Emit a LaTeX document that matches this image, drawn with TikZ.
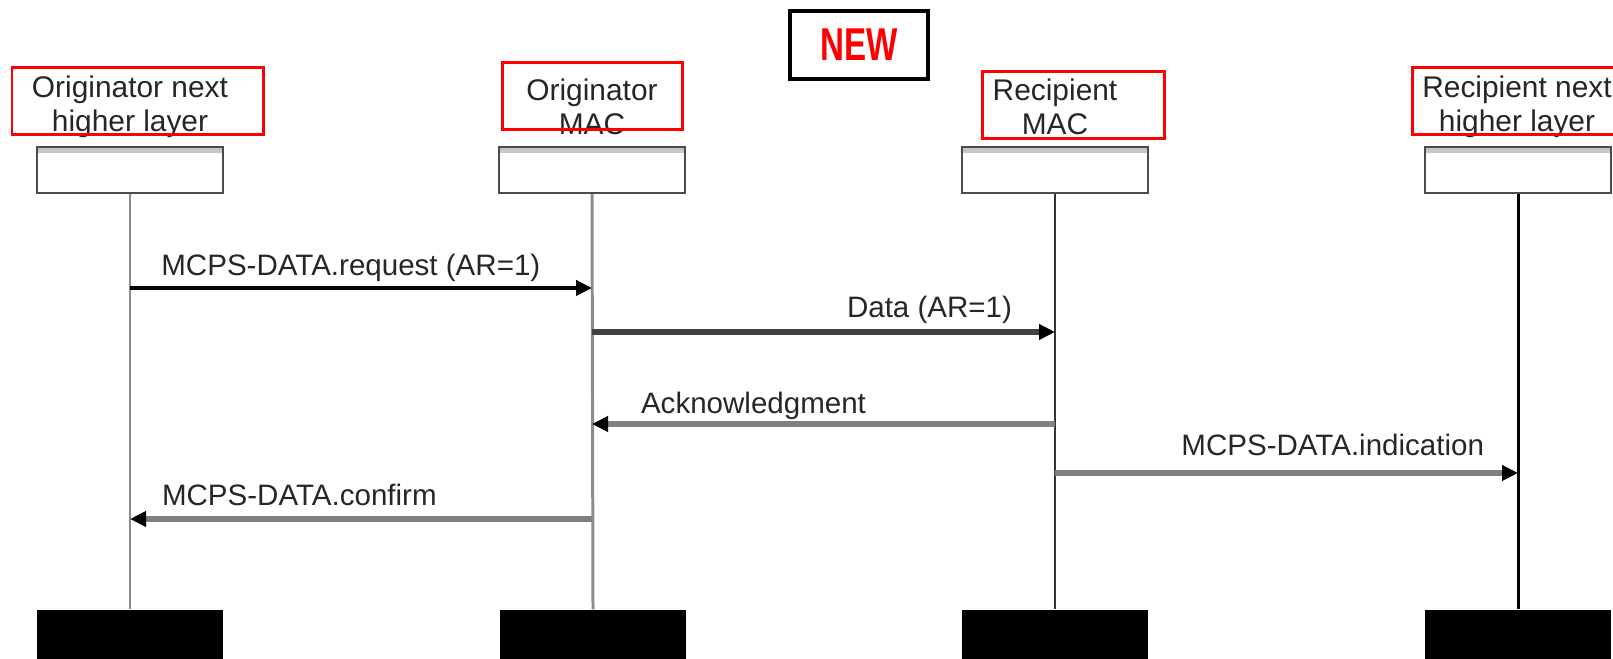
\documentclass[tikz,border=0pt]{standalone}
\usepackage{fontspec}
\setmainfont{Liberation Sans}
\usetikzlibrary{arrows.meta}
\begin{document}
\begin{tikzpicture}[x=0.01cm, y=-0.01cm,
  actor/.style={align=center, inner sep=0pt, text=black!85,
               font=\fontsize{8.5}{9.7}\selectfont},
  headbox/.style={draw=black!70, line width=0.7pt, fill=white,
                  minimum width=1.86cm, minimum height=0.46cm, inner sep=0pt,
                  path picture={\fill[gray!45] ([yshift=-0.06cm]path picture bounding box.north west)
                                rectangle (path picture bounding box.north east);}},
  footbox/.style={fill=black, minimum width=1.86cm, minimum height=0.49cm, inner sep=0pt},
  life/.style={draw=black!45, line width=0.85pt},
  redbox/.style={draw=red, line width=0.85pt},
  newbox/.style={draw=black, line width=1.15pt, minimum width=1.38cm, minimum height=0.68cm,
                 text=red, font=\fontsize{13.1}{14}\selectfont\bfseries},
  msg/.style={line width=1.7pt, draw=black!50,
              -{Triangle[length=0.16cm, width=0.15cm, color=black]}},
  lbl/.style={inner sep=0pt, text=black!85, font=\fontsize{8.4}{10}\selectfont}
]
  \useasboundingbox (0,0) rectangle (1613,659);

  % marker
  \node[newbox] (new) at (859,45) {\scalebox{0.72}[1]{NEW}};

  % lifeline names
  \node[actor] (onl) at (130,107)  {Originator next\\higher layer};
  \node[actor] (omac) at (592,107) {Originator\\MAC};
  \node[actor] (rmac) at (1055,107) {Recipient\\MAC};
  \node[actor] (rnl) at (1517,107) {Recipient next\\higher layer};

  % red highlights
  \draw[redbox] (12,68) rectangle (263,135);
  \draw[redbox] (502,63) rectangle (682,130);
  \draw[redbox] (982,72) rectangle (1164,139);
  \draw[redbox] (1412,68) rectangle (1620,135);

  % heads and feet
  \node[headbox] (onl-h)  at (130,170)  {};
  \node[headbox] (omac-h) at (592,170)  {};
  \node[headbox] (rmac-h) at (1055,170) {};
  \node[headbox] (rnl-h)  at (1518,170) {};
  \node[footbox] (onl-f)  at (130,634.5)  {};
  \node[footbox] (omac-f) at (593,634.5)  {};
  \node[footbox] (rmac-f) at (1055,634.5) {};
  \node[footbox] (rnl-f)  at (1518,634.5) {};

  \draw[life] (onl-h.south) -- (onl-f.north);
  \draw[life] (omac-h.south) -- (omac-f.north);
  \draw[life, draw=black!80, line width=0.6pt] (rmac-h.south) -- (rmac-f.north);
  \draw[life, draw=black] (rnl-h.south) -- (rnl-f.north);

  % message end points
  \coordinate (req-a) at (130,288);  \coordinate (req-b) at (592,288);
  \coordinate (dat-a) at (592,332);  \coordinate (dat-b) at (1055,332);
  \coordinate (ack-a) at (1055,424); \coordinate (ack-b) at (592,424);
  \coordinate (ind-a) at (1055,473); \coordinate (ind-b) at (1518,473);
  \coordinate (cnf-a) at (592,519);  \coordinate (cnf-b) at (130,519);

  \draw[msg, draw=black, line width=1.35pt] (req-a) -- (req-b)
    node[lbl, pos=0, anchor=base west, xshift=0.29cm, yshift=0.12cm] {MCPS-DATA.request (AR=1)};
  \draw[msg, draw=black!75] (dat-a) -- (dat-b)
    node[lbl, pos=1, anchor=base east, xshift=-0.40cm, yshift=0.14cm] {Data (AR=1)};
  \draw[msg] (ack-a) -- (ack-b)
    node[lbl, pos=1, anchor=base west, xshift=0.46cm, yshift=0.10cm] {Acknowledgment};
  \draw[msg] (ind-a) -- (ind-b)
    node[lbl, pos=1, anchor=base east, xshift=-0.31cm, yshift=0.17cm] {MCPS-DATA.indication};
  \draw[msg] (cnf-a) -- (cnf-b)
    node[lbl, pos=1, anchor=base west, xshift=0.29cm, yshift=0.13cm] {MCPS-DATA.confirm};
\end{tikzpicture}
\end{document}
